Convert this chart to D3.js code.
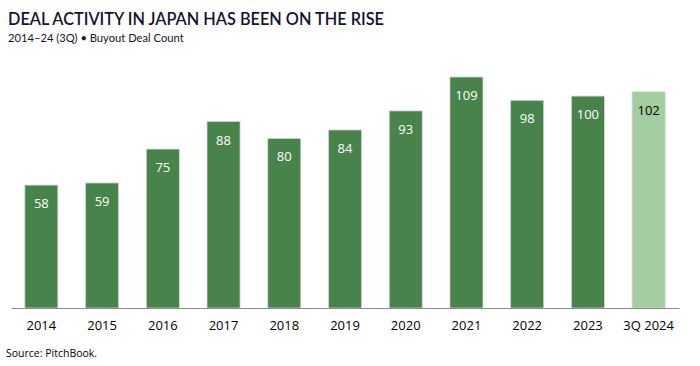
<!DOCTYPE html>
<html><head><meta charset="utf-8">
<script src="https://cdn.jsdelivr.net/npm/d3@7"></script>
<style>body{margin:0;background:#fff}svg{display:block}</style>
</head><body>
<script>
const categories = ["2014","2015","2016","2017","2018","2019","2020","2021","2022","2023","3Q 2024"];
const dealCounts = [58,59,75,88,80,84,93,109,98,100,102];
const title = "DEAL ACTIVITY IN JAPAN HAS BEEN ON THE RISE";
const subtitle = "2014–24 (3Q) • Buyout Deal Count";
const source = "Source: PitchBook.";

const W = 700, H = 366;
const svg = d3.select("body").append("svg").attr("width", W).attr("height", H);
const base = 308;
const x = d3.scaleBand().domain(categories).range([11, 679]).paddingInner(0.456).paddingOuter(0.228);
const y = d3.scaleLinear().domain([0, 109]).range([base, 77]);

svg.append("text").attr("x", 8).attr("y", 25).text(title)
  .attr("font-family", "Lato, sans-serif").attr("font-weight", 600).attr("font-size", 16.3).attr("fill", "#14142b");
svg.append("text").attr("x", 8).attr("y", 42).text(subtitle)
  .attr("font-family", "Lato, sans-serif").attr("font-size", 11.2).attr("fill", "#14142b");

const idx = d3.range(categories.length);
svg.selectAll("rect.bar").data(idx).join("rect").attr("class", "bar")
  .attr("x", i => x(categories[i])).attr("width", x.bandwidth())
  .attr("y", i => y(dealCounts[i])).attr("height", i => base - y(dealCounts[i]))
  .attr("fill", i => i === categories.length - 1 ? "#a1cda1" : "#47834a")
  .attr("stroke", "#d6d6d6").attr("stroke-width", 0.8);

svg.selectAll("text.val").data(idx).join("text").attr("class", "val")
  .attr("x", i => x(categories[i]) + x.bandwidth() / 2)
  .attr("y", i => y(dealCounts[i]) + 23)
  .attr("text-anchor", "middle").attr("font-family", "Open Sans, sans-serif").attr("font-size", 13)
  .attr("fill", i => i === categories.length - 1 ? "#000" : "#fff")
  .text(i => dealCounts[i]);

const axis = svg.append("g").attr("transform", `translate(0,${base})`)
  .call(d3.axisBottom(x).tickSize(0).tickPadding(13));
axis.select(".domain").attr("stroke", "#8c8c8c").attr("stroke-width", 1.2);
axis.selectAll("text").attr("font-family", "Open Sans, sans-serif").attr("font-size", 13).attr("fill", "#000");

svg.append("text").attr("x", 6).attr("y", 357).text(source)
  .attr("font-family", "Open Sans, sans-serif").attr("font-size", 10.5).attr("fill", "#000");
</script>
</body></html>
